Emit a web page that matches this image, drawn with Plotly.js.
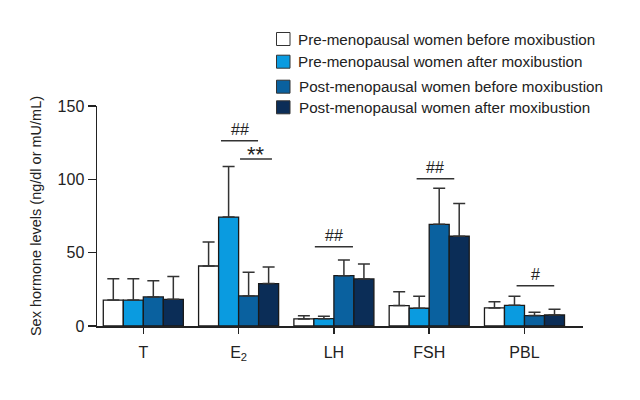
<!DOCTYPE html>
<html><head><meta charset="utf-8">
<script src="https://cdn.plot.ly/plotly-3.0.1.min.js"></script>
<style>html,body{margin:0;padding:0;background:#fff}#chart{width:640px;height:400px}</style>
</head><body><div id="chart"></div>
<script>
const categories = ["T", "E<sub>2</sub>", "LH", "FSH", "PBL"];
const seriesNames = [
  "Pre-menopausal women before moxibustion",
  "Pre-menopausal women after moxibustion",
  "Post-menopausal women before moxibustion",
  "Post-menopausal women after moxibustion"
];
const preBefore = [17.7, 40.9, 4.8, 13.9, 12.3];
const preBeforeSD = [14.6, 16.4, 2.2, 9.5, 4.3];
const preAfter = [17.7, 74.3, 5.0, 12.1, 14.1];
const preAfterSD = [14.6, 34.4, 1.6, 8.2, 6.2];
const postBefore = [19.8, 20.5, 34.3, 69.3, 7.1];
const postBeforeSD = [11.1, 16.1, 10.7, 24.6, 2.2];
const postAfter = [18.2, 28.9, 32.1, 61.2, 7.5];
const postAfterSD = [15.5, 11.3, 10.2, 22.4, 3.9];
const colors = ["#ffffff", "#0a9be0", "#0a619f", "#0b2d57"];
const yTicks = [0, 50, 100, 150];

const FONT = "'Liberation Sans', Arial, sans-serif";
const vals = [preBefore, preAfter, postBefore, postAfter];
const sds = [preBeforeSD, preAfterSD, postBeforeSD, postAfterSD];
const x = categories.map((c, i) => i);

const traces = vals.map((v, k) => ({
  type: "bar", x: x, y: v, name: seriesNames[k],
  marker: {color: colors[k], line: {color: "#1a1a1a", width: 1.3}},
  error_y: {type: "data", array: sds[k], arrayminus: sds[k].map(() => 0), symmetric: false,
            color: "#333", thickness: 1.5, width: 6},
  showlegend: false, hoverinfo: "skip"
}));

// layout in pixels -> paper
const L = 97, R = 583, T = 106, B = 326;
const px = p => (p - L) / (R - L);
const py = p => (B - p) / (B - T);

const shapes = [];
const annotations = [];
// legend (custom, built from series arrays)
const legY = [39, 61.7, 86.7, 107.3];
const legTextX = [295.5, 295.5, 297, 297];
seriesNames.forEach((n, k) => {
  shapes.push({type: "rect", xref: "paper", yref: "paper",
    x0: px(276.5), x1: px(290), y0: py(legY[k] + 6.5), y1: py(legY[k] - 6.5),
    fillcolor: colors[k], line: {color: "#333", width: 1}});
  annotations.push({xref: "paper", yref: "paper", x: px(legTextX[k]), y: py(legY[k]),
    xanchor: "left", yanchor: "middle", text: n, showarrow: false,
    font: {family: FONT, size: 15.2, color: "#222"}});
});
// significance markers (category x units)
const sig = [
  {x0: 0.815, x1: 1.204, yl: 140.7, text: "##", ty: 129, fs: 16},
  {x0: 1.015, x1: 1.35, yl: 159, text: "**", ty: 154, fs: 22},
  {x0: 1.80, x1: 2.20, yl: 246.7, text: "##", ty: 235, fs: 16},
  {x0: 2.868, x1: 3.263, yl: 178.7, text: "##", ty: 167, fs: 16},
  {x0: 3.917, x1: 4.312, yl: 285.7, text: "#", ty: 274, fs: 16}
];
sig.forEach(s => {
  shapes.push({type: "line", xref: "x", yref: "paper", x0: s.x0, x1: s.x1,
    y0: py(s.yl), y1: py(s.yl), line: {color: "#333", width: 1.5}});
  annotations.push({xref: "x", yref: "paper", x: (s.x0 + s.x1) / 2, y: py(s.ty),
    text: s.text, showarrow: false, xanchor: "center", yanchor: "middle",
    font: {family: FONT, size: s.fs, color: "#222"}});
});

const layout = {
  width: 640, height: 400,
  margin: {l: L, r: 640 - R, t: T, b: 400 - B},
  paper_bgcolor: "#fff", plot_bgcolor: "#fff",
  barmode: "group", bargap: 0.16, bargroupgap: 0,
  font: {family: FONT, size: 15, color: "#222"},
  xaxis: {
    range: [-0.486, 4.614], tickmode: "array", tickvals: x, ticktext: categories,
    showline: true, linecolor: "#222", linewidth: 1.5, ticks: "outside", ticklen: 6,
    tickwidth: 1.5, tickcolor: "#222", showgrid: false, zeroline: false,
    ticklabelstandoff: 5,
    tickfont: {family: FONT, size: 16, color: "#222"}
  },
  yaxis: {
    range: [0, 150], tickmode: "array", tickvals: yTicks,
    showline: true, linecolor: "#222", linewidth: 1.5, ticks: "outside", ticklen: 8,
    tickwidth: 1.5, tickcolor: "#222", showgrid: false, zeroline: false,
    tickfont: {family: FONT, size: 16, color: "#222"},
    title: {text: "Sex hormone levels (ng/dl or mU/mL)", standoff: 12,
            font: {family: FONT, size: 14.5, color: "#222"}}
  },
  shapes: shapes, annotations: annotations, showlegend: false
};
Plotly.newPlot("chart", traces, layout, {displayModeBar: false, staticPlot: true});
</script></body></html>
